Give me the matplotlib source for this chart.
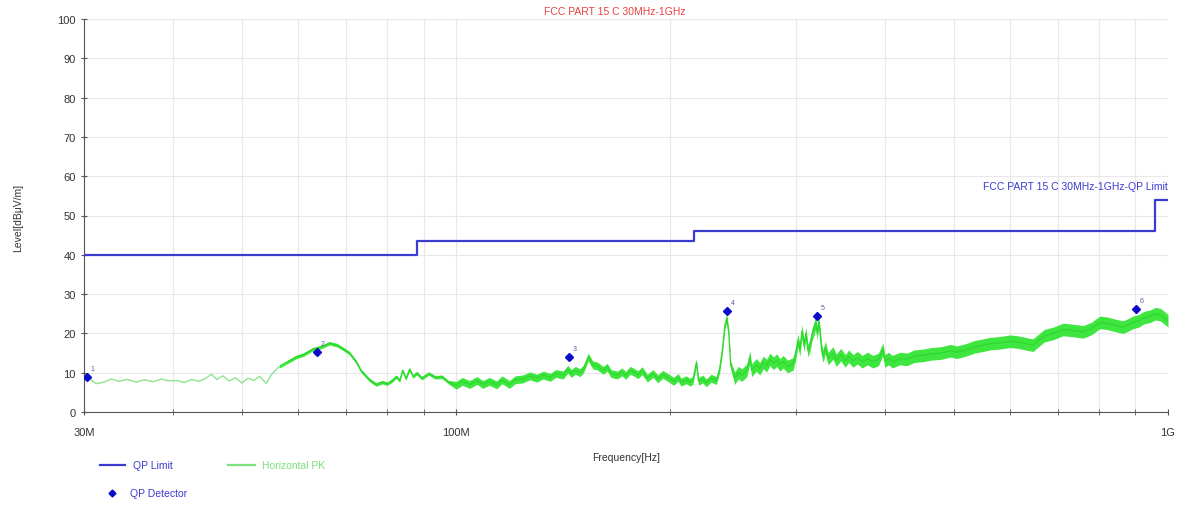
import numpy as np
import matplotlib
matplotlib.use("Agg")
import matplotlib.pyplot as plt
from matplotlib.lines import Line2D

plt.rcParams['font.family'] = ['Liberation Sans', 'DejaVu Sans']

# limit line (MHz, dBuV/m)
lim_f = [30, 88, 88, 216, 216, 960, 960, 1000]
lim_v = [40, 40, 43.5, 43.5, 46, 46, 54, 54]

# QP detector points
qp_f = [30.3, 63.7, 144.0, 240.0, 321.0, 902.0]
qp_v = [8.8, 15.3, 14.1, 25.7, 24.4, 26.2]
qp_lab = ["1", "2", "3", "4", "5", "6"]

# horizontal peak trace
pk_f = [30.3, 30.8, 31.2, 32.0, 32.8, 33.6, 34.5, 35.5, 36.5, 37.5, 38.5, 39.5,
        40.5, 41.5, 42.5, 43.5, 44.5, 45.3, 46.1, 47.0, 48.0, 49.0, 50.0, 51.0,
        52.0, 52.9, 54.1, 55.0, 56.4, 58.0, 59.6, 61.0, 62.9, 64.5, 66.4, 68.0,
        69.2, 70.8, 72.4, 73.5, 75.5, 77.2, 78.7, 80.0, 81.3, 82.4, 83.3, 84.1,
        85.0, 86.0, 87.0, 88.0, 89.5, 91.5, 93.5, 95.5, 97.5, 100, 102, 104.4,
        107, 109, 111.3, 114, 116, 118.8, 121, 124, 127, 129.8, 132.5, 135.5,
        138, 141.3, 143.5, 145, 147, 149.3, 151, 153.3, 155.5, 157.9, 160.9, 163,
        165, 168.4, 171, 173, 175.6, 177.4, 180, 182.5, 185.6, 189, 192, 195,
        199.1, 202, 205, 207, 210.4, 213, 215, 217.5, 219, 222, 224.6, 228,
        232, 234.5, 236.6, 238.5, 240, 241.5, 243, 246.2, 249, 252, 256, 258.6,
        260, 264, 267, 270, 273, 275.8, 279, 282, 284.9, 288, 292, 297.3,
        300, 302, 304, 306, 308, 310, 312, 314.1, 316, 318, 320, 321.5,
        323, 324.4, 326, 327.6, 330, 333, 338.4, 342, 347, 352, 356, 361,
        366, 372, 378, 385, 392, 397.7, 400, 405, 410, 420, 430, 440,
        452.7, 465, 480, 495, 505, 520, 535, 550, 562, 580, 600, 615,
        630, 646, 660, 670, 690, 712, 730, 760, 780, 802, 820, 845,
        865, 880, 893, 910, 925, 945, 960, 975, 985, 1000]
pk_v = [9.0, 8.0, 7.2, 7.6, 8.4, 7.8, 8.3, 7.6, 8.2, 7.7, 8.4, 7.9,
        8.0, 7.5, 8.3, 7.8, 8.6, 9.6, 8.3, 9.2, 7.9, 8.7, 7.4, 8.6,
        8.0, 9.1, 7.3, 9.5, 11.6, 12.8, 14.0, 14.6, 16.0, 16.5, 17.5, 17.0,
        16.2, 15.0, 12.7, 10.5, 8.2, 7.0, 7.6, 7.2, 8.0, 9.0, 8.0, 10.6,
        8.5, 10.9, 9.0, 9.9, 8.6, 9.8, 8.8, 9.0, 7.6, 6.8, 7.8, 7.0,
        8.0, 7.0, 7.8, 6.9, 8.2, 7.0, 8.2, 8.4, 9.2, 8.6, 9.4, 8.8,
        9.8, 9.4, 10.9, 9.8, 10.6, 10.0, 11.0, 14.0, 12.0, 11.7, 10.6, 11.4,
        9.8, 9.4, 10.2, 9.3, 10.6, 10.2, 9.5, 10.5, 8.6, 9.8, 8.4, 9.6,
        8.6, 7.8, 8.8, 7.6, 8.2, 7.6, 8.0, 12.6, 7.8, 8.4, 7.4, 8.6,
        8.0, 11.0, 16.0, 22.0, 24.0, 20.0, 12.0, 8.6, 10.0, 9.4, 10.6, 14.0,
        10.6, 12.0, 11.0, 12.6, 11.8, 13.4, 12.4, 13.2, 12.0, 12.8, 11.6, 12.2,
        15.0, 18.2, 15.8, 20.6, 17.0, 20.0, 15.6, 17.0, 19.6, 21.0, 22.8, 20.0,
        23.0, 20.4, 16.0, 14.2, 16.4, 13.6, 15.0, 13.2, 14.6, 13.0, 14.2, 13.0,
        13.8, 12.8, 13.6, 12.8, 13.4, 16.0, 13.0, 13.6, 12.8, 13.6, 13.4, 14.2,
        14.4, 14.8, 15.0, 15.6, 15.2, 15.8, 16.6, 17.0, 17.4, 17.6, 18.0, 17.8,
        17.4, 17.0, 18.4, 19.4, 20.0, 21.0, 20.8, 20.4, 21.2, 22.8, 22.6, 22.0,
        21.6, 22.2, 22.8, 23.2, 24.0, 24.4, 25.0, 24.8, 24.2, 23.2]
# half height of the noise band around the trace (dB), by frequency range
band_edges = [30, 56.4, 100, 246.2, 1000]
band_half = [0.15, 0.45, 1.0, 1.6]

blue = '#3b3bd0'
green = '#2fe02f'

fig = plt.figure(figsize=(11.78, 5.06), dpi=100)
ax = fig.add_axes([84/1178, 1 - 413/506, 1084/1178, 393/506])

f = np.array(pk_f)
v = np.array(pk_v)
hw = np.zeros_like(v)
for lo, hi, w in zip(band_edges[:-1], band_edges[1:], band_half):
    hw[(f >= lo) & (f <= hi)] = w
ax.fill_between(f, v - hw, v + hw, color='#40e640', lw=0, zorder=2,
                where=f >= 56.4)
m1 = f <= 56.4
ax.plot(f[m1], v[m1], color='#8fe48f', lw=1.0, zorder=3)
ax.plot(f[~m1], v[~m1], color='#2ed82e', lw=0.9, zorder=3)

ax.plot(lim_f, lim_v, color=blue, lw=1.6, zorder=4)
ax.text(1000, 57.5, "FCC PART 15 C 30MHz-1GHz-QP Limit", color=blue,
        fontsize=7.5, ha='right', va='center')

ax.plot(qp_f, qp_v, 'D', color='#0a0ac8', ms=4.5, ls='none', zorder=5)
for x, y, t in zip(qp_f, qp_v, qp_lab):
    ax.text(x * 1.012, y + 1.8, t, fontsize=5, color='#5a5aa0')

ax.set_xscale('log')
ax.set_xlim(30, 1000)
ax.set_ylim(0, 100)
ax.set_yticks(range(0, 101, 10))
ax.set_xticks([30, 100, 1000])
ax.set_xticklabels(["30M", "100M", "1G"])
minor = [40, 50, 60, 70, 80, 90, 200, 300, 400, 500, 600, 700, 800, 900]
ax.set_xticks(minor, minor=True)
ax.xaxis.set_minor_formatter(plt.NullFormatter())
ax.grid(True, which='both', color='#e8e8e8', lw=0.8)
ax.set_axisbelow(True)
for s in ['top', 'right']:
    ax.spines[s].set_visible(False)
for s in ['left', 'bottom']:
    ax.spines[s].set_color('#555555')
ax.tick_params(which='both', direction='inout', length=5, color='#555555',
               labelsize=8, labelcolor='#333333')
ax.tick_params(axis='x', pad=8)

fig.text(18/1178, 1 - 218/506, "Level[dBμV/m]", fontsize=7.5, color='#333333',
         ha='center', va='center', rotation=90)
fig.text(626/1178, 1 - 458/506, "Frequency[Hz]", fontsize=7.5, color='#333333',
         ha='center', va='center')
fig.text(615/1178, 1 - 12/506, "FCC PART 15 C 30MHz-1GHz", fontsize=7.5,
         color='#e84040', ha='center', va='center')

# legend below the chart
fig.add_artist(Line2D([100/1178, 125/1178], [1 - 466/506] * 2, color=blue, lw=1.6))
fig.text(133/1178, 1 - 466/506, "QP Limit", color=blue, fontsize=7.5, va='center')
fig.add_artist(Line2D([228/1178, 255/1178], [1 - 466/506] * 2, color='#7ee07e', lw=1.6))
fig.text(262/1178, 1 - 466/506, "Horizontal PK", color='#7ee07e', fontsize=7.5, va='center')
fig.add_artist(Line2D([112/1178], [1 - 494/506], marker='D', color='#0a0ac8', ms=3.5))
fig.text(130/1178, 1 - 494/506, "QP Detector", color=blue, fontsize=7.5, va='center')

fig.savefig("out.png", dpi=100)
